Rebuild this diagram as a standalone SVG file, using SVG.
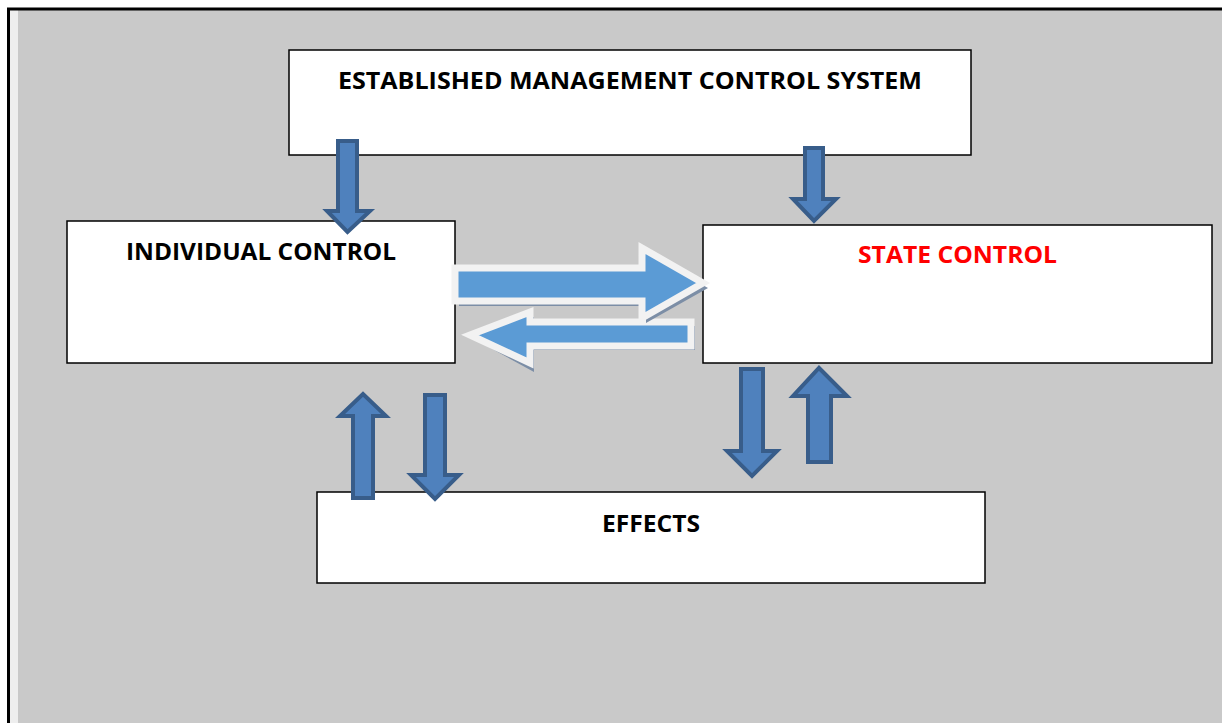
<svg xmlns="http://www.w3.org/2000/svg" width="1222" height="723" viewBox="0 0 1222 723">
<style>
.box{fill:#ffffff;stroke:#000000;stroke-width:1.5}
.lbl{font-family:"Open Sans","Liberation Sans",sans-serif;font-weight:bold;font-size:24px;fill:#000000;text-anchor:middle}
.red{fill:#ff0000}
.dark{fill:#4f81bd;stroke:#385d8a;stroke-width:4;stroke-linejoin:miter}
.wide{fill:#5b9bd5;stroke:#f2f2f2;stroke-width:7;stroke-linejoin:miter}
.shadow{fill:#7c8ea6}
</style>
<rect x="0" y="0" width="1222" height="723" fill="#ffffff"/>
<rect x="9" y="10" width="1213" height="713" fill="#c9c9c9"/>
<rect x="9" y="10" width="9" height="713" fill="#eeeeee"/>
<path d="M8.5 723 V9 H1222" fill="none" stroke="#000000" stroke-width="3"/>

<g id="node-system">
<rect class="box" x="289" y="50" width="682" height="105"/>
<text class="lbl" x="630" y="89" textLength="584" lengthAdjust="spacingAndGlyphs">ESTABLISHED MANAGEMENT CONTROL SYSTEM</text>
</g>
<g id="node-individual">
<rect class="box" x="67" y="221" width="388" height="142"/>
<text class="lbl" x="261" y="260" textLength="270" lengthAdjust="spacingAndGlyphs">INDIVIDUAL CONTROL</text>
</g>
<g id="node-state">
<rect class="box" x="703" y="225" width="509" height="138"/>
<text class="lbl red" x="957.5" y="263" textLength="199" lengthAdjust="spacingAndGlyphs">STATE CONTROL</text>
</g>
<g id="node-effects">
<rect class="box" x="317" y="492" width="668" height="91"/>
<text class="lbl" x="651" y="532" textLength="98" lengthAdjust="spacingAndGlyphs">EFFECTS</text>
</g>

<g id="connectors">
<!-- system -> individual -->
<path class="dark" d="M338 141 H357 V211 H370 L347.5 232 L327 211 H338 Z"/>
<!-- system -> state -->
<path class="dark" d="M805 148 H823 V199 H836 L814 221 L793 199 H805 Z"/>
<!-- effects -> individual (up) -->
<path class="dark" d="M353 498 V416 H340 L363 394 L386 416 H373 V498 Z"/>
<!-- individual -> effects (down) -->
<path class="dark" d="M425 395 H445 V475 H459 L435 499 L411 475 H425 Z"/>
<!-- state -> effects (down) -->
<path class="dark" d="M741 369 H763 V451 H777 L752 476 L727 451 H741 Z"/>
<!-- effects -> state (up) -->
<path class="dark" d="M808 462 V396 H793 L819 368 L847 396 H831 V462 Z"/>

<!-- state -> individual (left wide arrow) -->
<path class="shadow" d="M474 339 L534 317 V326 H695 V350 H534 V372 Z"/>
<path class="wide" d="M470 335 L530 312 V322 H691 V346 H530 V363 Z"/>
<!-- individual -> state (right wide arrow) -->
<path class="shadow" d="M459 273 H646 V253 L708 288 L646 323 V306 H459 Z"/>
<path class="wide" d="M455 268 H642 V248 L703 283 L642 318 V301 H455 Z"/>
</g>
</svg>
